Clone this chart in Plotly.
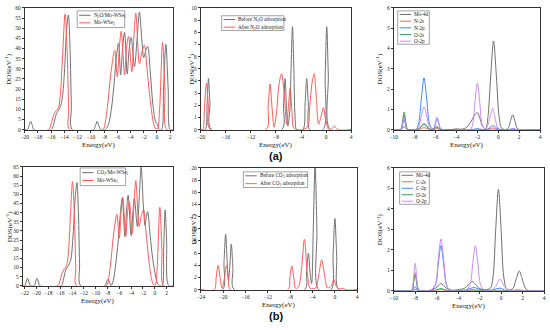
import plotly.graph_objects as go

# ---------------- data (energy eV, DOS) ----------------
# Panel (a) left: total DOS
a1_n2o = [(-20,0),(-19.6,0),(-19.35,2),(-19.1,4),(-18.85,2),(-18.6,0),(-16.0,0),(-15.6,3),(-15.2,8),(-14.8,10),
          (-14.4,14),(-14.0,28),(-13.7,48),(-13.4,56.5),(-13.15,40),(-12.95,12),(-12.8,0),(-9.6,0),(-9.3,2),(-9.05,4),
          (-8.8,2),(-8.5,0),(-7.8,0),(-7.3,3),(-6.9,10),(-6.5,22),(-6.1,37),(-5.8,42.5),(-5.5,27),(-5.2,40),(-4.9,48),
          (-4.5,27.5),(-4.2,40),(-3.9,45.5),(-3.4,31),(-3.0,45),(-2.65,58),(-2.3,45),(-2.0,35.5),(-1.7,39),(-1.4,41),
          (-1.0,28),(-0.6,12),(-0.2,4),(0.1,2.5),(0.35,0),(0.7,0),(1.0,20),(1.35,42),(1.7,20),(2.0,0),(2.5,0)]
mows2 = [(-22.5,0),(-16.4,0),(-16.0,3),(-15.6,7.5),(-15.2,9.5),(-14.9,11),(-14.6,18),(-14.3,35),(-13.9,57),(-13.6,40),
         (-13.35,10),(-13.2,0),(-8.2,0),(-7.8,4),(-7.4,14),(-7.0,27),(-6.4,39),(-6.0,26),(-5.7,40),(-5.4,48.5),(-4.9,27),
         (-4.6,40),(-4.3,46),(-3.8,28.5),(-3.5,45),(-3.2,57.5),(-2.65,32.5),(-2.3,38),(-1.9,41.5),(-1.5,30),(-1.0,14),
         (-0.5,3),(-0.2,0.5),(0.1,0.5),(0.4,10),(0.85,43),(1.2,20),(1.5,0),(3.2,0)]
# Panel (a) middle
a2_before = [(-20,0),(-19.3,0),(-19.0,2.2),(-18.78,4.2),(-18.55,2.2),(-18.3,0),(-7.1,0),(-6.8,2),(-6.55,4.2),(-6.3,1.5),
             (-6.1,0.3),(-5.8,1.5),(-5.6,5),(-5.37,8.45),(-5.15,5),(-4.95,1),(-4.7,0),(-3.7,0),(-3.35,2.2),(-3.1,4.2),
             (-2.85,2.2),(-2.6,0),(-0.5,0),(-0.15,4.5),(0.1,8.45),(0.35,4.5),(0.65,0),(4,0)]
a2_after = [(-20,0),(-19.7,0),(-19.4,2),(-19.1,3.8),(-18.8,2),(-18.5,0),(-9.6,0),(-9.25,1.9),(-8.94,3.75),(-8.65,1.9),
            (-8.3,0.2),(-7.9,1.5),(-7.5,3.8),(-7.1,4.6),(-6.7,3),(-6.3,0.45),(-6.0,2),(-5.75,3.4),(-5.45,1.5),(-5.1,0.1),
            (-4.0,0),(-3.0,0.2),(-2.6,2),(-2.2,4),(-1.9,4.6),(-1.55,2.5),(-1.2,0.45),(-0.8,1.1),(-0.43,1.8),(-0.1,0.9),
            (0.4,0.05),(0.9,0.05),(1.33,0.3),(1.8,0.02),(4,0)]
# Panel (a) right: PDOS
a3_mo4d = [(-10,0),(-9.36,0),(-9.24,0.02),(-9.12,0.09),(-9.0,0.15),(-8.88,0.09),(-8.76,0.02),(-8.6,0),(-7.85,0),(-7.6,0.04),
           (-7.35,0.18),(-7.1,0.3),(-6.85,0.18),(-6.6,0.04),(-6.35,0),(-6.2,0.02),(-6.05,0.1),(-5.9,0.17),(-5.75,0.1),
           (-5.6,0.02),(-5.4,0),(-4.4,0.01),(-4.0,0.04),(-3.6,0.02),(-3.2,0.06),(-2.9,0.18),(-2.5,0.5),(-2.25,0.72),
           (-2.0,0.84),(-1.75,0.55),(-1.5,0.16),(-1.2,0.05),(-0.99,0.6),(-0.72,2.65),(-0.45,4.37),(-0.18,2.65),(0.09,0.6),
           (0.35,0.05),(0.8,0.02),(0.98,0.1),(1.18,0.45),(1.38,0.73),(1.58,0.45),(1.78,0.1),(2.0,0),(4,0)]
a3_n2s = [(-10,0),(-9.36,0),(-9.24,0.1),(-9.12,0.44),(-9.0,0.73),(-8.88,0.44),(-8.76,0.1),(-8.6,0),(-7.6,0.01),(-7.1,0.1),
          (-6.6,0.01),(-6.2,0),(-5.9,0.05),(-5.6,0),(-1.1,0),(-0.5,0.08),(0.1,0),(4,0)]
a3_n2p = [(-10,0),(-9.36,0),(-9.24,0.07),(-9.12,0.3),(-9.0,0.5),(-8.88,0.3),(-8.76,0.07),(-8.6,0),(-7.85,0.02),(-7.6,0.35),
          (-7.35,1.55),(-7.1,2.55),(-6.85,1.55),(-6.6,0.35),(-6.35,0.05),(-6.15,0.07),(-6.0,0.32),(-5.85,0.53),(-5.7,0.32),
          (-5.55,0.07),(-5.3,0),(-2.5,0),(-2.0,0.05),(-1.5,0),(-1.0,0.03),(-0.75,0.12),(-0.5,0.2),(-0.25,0.12),(0.0,0.03),
          (0.3,0),(1.0,0),(1.4,0.05),(1.8,0),(4,0)]
a3_o2s = [(-10,0),(-9.36,0),(-9.24,0.12),(-9.12,0.52),(-9.0,0.86),(-8.88,0.52),(-8.76,0.12),(-8.6,0),(-7.85,0),(-7.6,0.03),
          (-7.35,0.15),(-7.1,0.25),(-6.85,0.15),(-6.6,0.03),(-6.35,0),(-6.15,0.02),(-6.0,0.07),(-5.85,0.12),(-5.7,0.07),
          (-5.55,0.02),(-5.3,0),(4,0)]
a3_o2p = [(-10,0),(-9.36,0),(-9.24,0.08),(-9.12,0.36),(-9.0,0.6),(-8.88,0.36),(-8.76,0.08),(-8.6,0),(-7.85,0.02),(-7.6,0.15),
          (-7.35,0.68),(-7.1,1.13),(-6.85,0.68),(-6.6,0.15),(-6.35,0.05),(-6.15,0.08),(-6.0,0.37),(-5.85,0.62),(-5.7,0.37),
          (-5.55,0.08),(-5.3,0),(-2.66,0.02),(-2.44,0.3),(-2.22,1.4),(-2.0,2.3),(-1.78,1.4),(-1.56,0.3),(-1.3,0.05),
          (-1.1,0.1),(-0.78,0.63),(-0.55,1.05),(-0.32,0.63),(-0.09,0.14),(0.2,0),(1.0,0),(1.4,0.05),(1.8,0),(4,0)]
# Panel (b) left
b1_co2 = [(-22.5,0),(-22.0,0),(-21.75,2),(-21.5,4.1),(-21.25,2),(-21.0,0),(-20.4,0),(-20.15,2),(-19.9,4.1),(-19.65,2),
          (-19.4,0),(-15.8,0),(-15.4,4),(-15.0,9),(-14.6,11),(-14.2,14),(-13.8,28),(-13.45,48),(-13.15,56.5),(-12.9,40),
          (-12.7,12),(-12.5,0),(-8.4,0),(-8.15,2),(-7.9,3.7),(-7.65,2),(-7.4,0),(-7.0,3),(-6.6,12),(-6.2,24),(-5.8,40),
          (-5.5,48),(-5.05,27),(-4.75,42),(-4.5,49.5),(-4.0,27.5),(-3.7,40),(-3.45,48),(-2.95,32.5),(-2.6,50),(-2.3,65),
          (-1.95,45),(-1.65,33),(-1.4,38),(-1.2,40.5),(-0.8,28),(-0.35,14.8),(0.1,6),(0.45,1.4),(0.85,0),(1.25,0),
          (1.5,20),(1.75,41.5),(2.0,25),(2.35,0),(3.2,0)]
# Panel (b) middle
b2_before = [(-24,0),(-20.1,0),(-19.85,4.5),(-19.55,9.1),(-19.25,4),(-19.05,1.5),(-18.8,4),(-18.54,7.5),(-18.25,3.5),
             (-18.0,0),(-5.4,0),(-5.05,3),(-4.72,6.0),(-4.4,2.5),(-4.15,1),(-3.85,10),(-3.53,20.5),(-3.2,10),(-2.9,0),
             (-0.65,0),(-0.3,5.8),(0.02,11.7),(0.35,5.5),(0.7,0),(4,0)]
b2_after = [(-24,0),(-21.6,0),(-21.25,2),(-20.9,4.0),(-20.55,2),(-20.2,0.3),(-19.75,2),(-19.4,4.0),(-19.05,2),(-18.7,0),
            (-8.4,0),(-8.05,2),(-7.7,3.9),(-7.35,2),(-7.0,0.2),(-6.5,0.5),(-6.0,3),(-5.44,8.3),(-4.95,3),(-4.5,0.3),
            (-4.2,0.2),(-3.4,0.3),(-2.85,2.5),(-2.35,4.9),(-1.85,2.5),(-1.3,0.3),(-0.65,0.6),(-0.15,1.7),(0.3,0.5),
            (0.9,0.1),(1.5,0.25),(2.0,0),(4,0)]
# Panel (b) right: PDOS
b3_mo4d = [(-10,0),(-8.4,0),(-8.0,0.05),(-7.6,0),(-6.6,0.02),(-6.1,0.12),(-5.6,0.35),(-5.1,0.12),(-4.6,0.02),(-4.0,0.05),
           (-3.4,0.12),(-3.05,0.3),(-2.7,0.45),(-2.35,0.3),(-2.0,0.1),(-1.5,0.05),(-1.0,0.12),(-0.75,0.67),(-0.5,3.0),
           (-0.25,4.96),(0.0,3.0),(0.25,0.67),(0.55,0.05),(0.9,0.05),(1.13,0.13),(1.41,0.58),(1.69,0.96),(1.97,0.58),
           (2.25,0.13),(2.55,0),(4,0)]
b3_c2s = [(-10,0),(-8.36,0),(-8.24,0.12),(-8.12,0.53),(-8.0,0.88),(-7.88,0.53),(-7.76,0.12),(-7.6,0),(-6.2,0),(-5.6,0.05),
          (-5.0,0),(-3.0,0.01),(-2.4,0.03),(-1.8,0),(4,0)]
b3_c2p = [(-10,0),(-8.36,0),(-8.24,0.03),(-8.12,0.11),(-8.0,0.19),(-7.88,0.11),(-7.76,0.03),(-7.6,0),(-6.5,0.02),(-6.1,0.3),
          (-5.85,1.32),(-5.6,2.2),(-5.35,1.32),(-5.1,0.3),(-4.8,0.04),(-3.4,0.03),(-2.5,0.15),(-1.8,0.03),(-1.0,0.02),
          (-0.1,0.12),(0.5,0),(4,0)]
b3_o2s = [(-10,0),(-8.36,0),(-8.24,0.1),(-8.12,0.46),(-8.0,0.77),(-7.88,0.46),(-7.76,0.1),(-7.6,0),(-6.3,0),(-5.6,0.1),
          (-4.9,0),(-3.3,0),(-2.7,0.04),(-2.1,0),(4,0)]
b3_o2p = [(-10,0),(-8.36,0),(-8.24,0.18),(-8.12,0.8),(-8.0,1.34),(-7.88,0.8),(-7.76,0.18),(-7.6,0.02),(-6.5,0.05),
          (-6.1,0.34),(-5.85,1.52),(-5.6,2.53),(-5.35,1.52),(-5.1,0.34),(-4.8,0.05),(-3.3,0.02),(-2.9,0.3),(-2.64,1.32),
          (-2.4,2.2),(-2.16,1.32),(-1.92,0.3),(-1.6,0.04),(-0.9,0.03),(-0.5,0.2),(-0.1,0.56),(0.3,0.2),(0.7,0.02),
          (1.6,0.05),(2.2,0),(4,0)]

# axis settings per panel: x range, x ticks, y range, y ticks
x_ranges = [[-20, 2.45], [-20, 4], [-10, 4], [-22.3, 3.1], [-24, 4], [-10, 4]]
x_dticks = [2, 4, 2, 2, 4, 2]
y_ranges = [[0, 60], [0, 10], [0, 6], [0, 65], [0, 20], [0, 6]]
y_dticks = [5, 1, 1, 5, 2, 1]

GREY = '#707070'
RED = '#ff5c5c'
BLUE = '#3d86ff'
GREEN = '#33a35a'
VIOLET = '#c98cf7'

panels = [
    [("N<sub>2</sub>O/Mo-WSe<sub>2</sub>", a1_n2o, GREY), ("Mo-WSe<sub>2</sub>", mows2, RED)],
    [("Before N<sub>2</sub>O adsorption", a2_before, GREY), ("After N<sub>2</sub>O adsorption", a2_after, RED)],
    [("Mo-4d", a3_mo4d, GREY), ("N-2s", a3_n2s, RED), ("N-2p", a3_n2p, BLUE), ("O-2s", a3_o2s, GREEN), ("O-2p", a3_o2p, VIOLET)],
    [("CO<sub>2</sub>/Mo-WSe<sub>2</sub>", b1_co2, GREY), ("Mo-WSe<sub>2</sub>", mows2, RED)],
    [("Before CO<sub>2</sub> adsorption", b2_before, GREY), ("After CO<sub>2</sub> adsorption", b2_after, RED)],
    [("Mo-4d", b3_mo4d, GREY), ("C-2s", b3_c2s, RED), ("C-2p", b3_c2p, BLUE), ("O-2s", b3_o2s, GREEN), ("O-2p", b3_o2p, VIOLET)],
]

# ---------------- layout geometry (pixels) ----------------
W, H = 550, 330
boxes = [(21, 5, 171, 129), (199, 5, 351, 129), (394, 5, 542, 129),
         (19, 167, 171, 288), (199, 168, 357, 292), (394, 168, 546, 293)]
# legend boxes: (x0, y0, x1, y1, first row y, row step)
legend_boxes = [(74, 8, 122, 25, 12.5, 7.7), (220, 13, 283, 28, 16.8, 7.8),
                (398, 8, 430, 42, 11.7, 6.8), (77, 168, 123, 186, 172.8, 8),
                (242, 172, 307, 188, 176, 8), (400, 172, 430, 205, 175.5, 6.6)]
xtitle_y = [144.5, 144.5, 144.5, 304, 307.5, 308.5]
ytitle_x = [5, 190, 380, 5, 192, 380]

FONT = 'Liberation Serif'
fig = go.Figure()

def X(px):
    return px / W

def Y(py):
    return 1 - py / H

def label(x, y, text, size, family=FONT, xanchor='center', angle=0, color='#222'):
    fig.add_annotation(x=X(x), y=Y(y), xref='paper', yref='paper', text=text, showarrow=False,
                       xanchor=xanchor, yanchor='middle', textangle=angle,
                       font=dict(family=family, size=size, color=color))

for i, traces in enumerate(panels):
    n = '' if i == 0 else str(i + 1)
    for name, pts, col in traces:
        fig.add_trace(go.Scatter(
            x=[p[0] for p in pts], y=[p[1] for p in pts], name=name, mode='lines',
            line=dict(color=col, width=1, shape='spline', smoothing=0.9),
            xaxis='x' + n, yaxis='y' + n, showlegend=False))
    x0, y0, x1, y1 = boxes[i]
    common = dict(showline=True, linecolor='#333', linewidth=0.8, mirror=True, ticks='outside',
                  ticklen=2, tickwidth=0.6, tickcolor='#333', showgrid=False, zeroline=False,
                  tickfont=dict(family=FONT, size=5.5, color='#222'))
    fig.layout['xaxis' + n] = dict(domain=[X(x0), X(x1)], anchor='y' + n, range=x_ranges[i],
                                   tick0=0, dtick=x_dticks[i], **common)
    fig.layout['yaxis' + n] = dict(domain=[Y(y1), Y(y0)], anchor='x' + n, range=y_ranges[i],
                                   tick0=0, dtick=y_dticks[i], **common)
    # legend drawn as a framed box with line samples and labels
    lx0, ly0, lx1, ly1, ry, step = legend_boxes[i]
    fig.add_shape(type='rect', xref='paper', yref='paper', x0=X(lx0), x1=X(lx1), y0=Y(ly1), y1=Y(ly0),
                  line=dict(color='#666', width=0.6), fillcolor='white', layer='above')
    for k, (name, pts, col) in enumerate(traces):
        yy = ry + k * step
        fig.add_shape(type='line', xref='paper', yref='paper', x0=X(lx0 + 2), x1=X(lx0 + 13.5),
                      y0=Y(yy), y1=Y(yy), line=dict(color=col, width=1), layer='above')
        label(lx0 + 15, yy, name, 5.2, xanchor='left')
    label((x0 + x1) / 2, xtitle_y[i], 'Energy(eV)', 7)
    label(ytitle_x[i], (y0 + y1) / 2, 'DOS(eV<sup>-1</sup>)', 7, angle=-90)

label(275, 155.5, '<b>(a)</b>', 11, family='Liberation Sans', color='#111')
label(275, 318.5, '<b>(b)</b>', 11, family='Liberation Sans', color='#111')

fig.update_layout(width=W, height=H, margin=dict(l=0, r=0, t=0, b=0), plot_bgcolor='white',
                  paper_bgcolor='white', showlegend=False)
fig.write_html("out.html", config={'displayModeBar': False},
               post_script="document.body.style.margin='0';")
